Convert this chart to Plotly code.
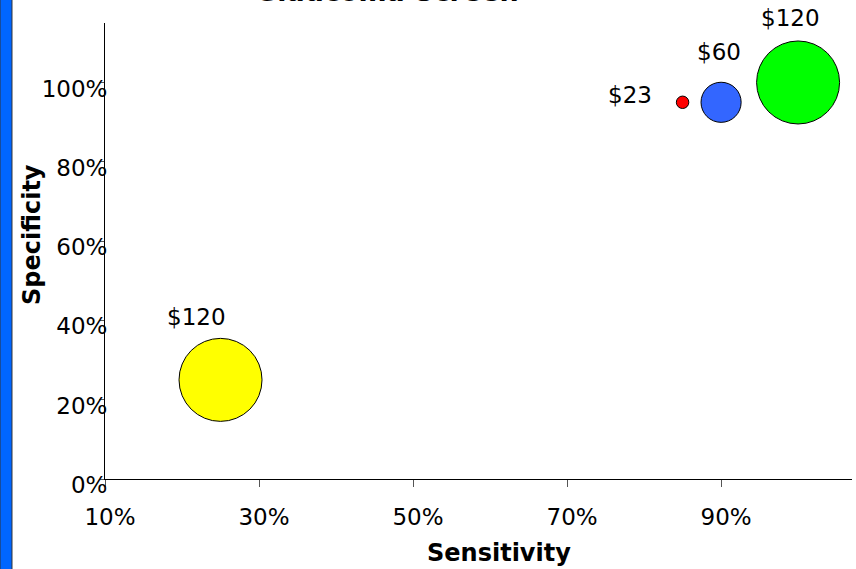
import plotly.graph_objects as go

# ---- data ----
sensitivity = [0.25, 0.85, 0.90, 1.00]
specificity = [0.25, 0.95, 0.95, 1.00]
cost = [120, 23, 60, 120]
bubble_value = [120, 18, 58, 120]
colors = ["#FFFF00", "#FF0000", "#3366FF", "#00FF00"]
x_ticks = [0.1, 0.3, 0.5, 0.7, 0.9]
y_ticks = [0.0, 0.2, 0.4, 0.6, 0.8, 1.0]
title_text = "Glaucoma Screen"
x_title = "Sensitivity"
y_title = "Specificity"

# ---- style ----
FONT = "DejaVu Sans"
label_dx = [-24, -53, -2, -8]
label_dy = [63, 7, 50, 64]

fig = go.Figure()
fig.add_trace(go.Scatter(
    x=sensitivity, y=specificity, mode="markers",
    marker=dict(size=bubble_value, sizemode="diameter", sizeref=120 / 83,
                color=colors, opacity=1, line=dict(color="black", width=1)),
    hoverinfo="skip", showlegend=False,
))

annotations = []
for xv, yv, c, dx, dy in zip(sensitivity, specificity, cost, label_dx, label_dy):
    annotations.append(dict(x=xv, y=yv, xref="x", yref="y", text=f"${c}",
                            showarrow=False, xshift=dx, yshift=dy,
                            font=dict(family=FONT, size=23, color="black")))

annotations.append(dict(x=0.377, y=1.03, xref="paper", yref="paper", text=f"<b>{title_text}</b>",
                        showarrow=False, xanchor="center", yanchor="bottom",
                        font=dict(family=FONT, size=27, color="black")))
annotations.append(dict(x=0.527, y=-0.162, xref="paper", yref="paper", text=f"<b>{x_title}</b>",
                        showarrow=False, xanchor="center", yanchor="middle",
                        font=dict(family=FONT, size=24, color="black")))
annotations.append(dict(x=-0.0977, y=0.535, xref="paper", yref="paper", text=f"<b>{y_title}</b>",
                        showarrow=False, xanchor="center", yanchor="middle", textangle=-90,
                        font=dict(family=FONT, size=24, color="black")))

fig.update_layout(
    width=856, height=569,
    margin=dict(l=105, r=4, t=23, b=90),
    paper_bgcolor="white", plot_bgcolor="white",
    annotations=annotations,
    shapes=[dict(type="rect", xref="paper", yref="paper",
                 x0=-0.1406, x1=-0.1245, y0=-0.5, y1=1.5,
                 fillcolor="#0066FF", line=dict(color="#333333", width=1), layer="above")],
    showlegend=False,
)
fig.update_xaxes(range=[0.1, 1.07], tickvals=x_ticks, tickformat=".0%",
                 showgrid=False, zeroline=False, showline=True, linecolor="black", linewidth=1,
                 ticks="outside", ticklen=7, tickcolor="#555555",
                 tickfont=dict(family=FONT, size=23, color="black"),
                 ticklabelshift=5, ticklabelstandoff=10)
fig.update_yaxes(range=[0, 1.15], tickvals=y_ticks, tickformat=".0%",
                 showgrid=False, zeroline=False, showline=True, linecolor="black", linewidth=1,
                 ticks="outside", ticklen=5, tickcolor="#555555",
                 tickfont=dict(family=FONT, size=23, color="black"),
                 ticklabelshift=6, ticklabelstandoff=-13)

fig.write_html("out.html", config={"displayModeBar": False},
               post_script="document.body.style.margin='0';document.body.style.overflow='hidden';")
